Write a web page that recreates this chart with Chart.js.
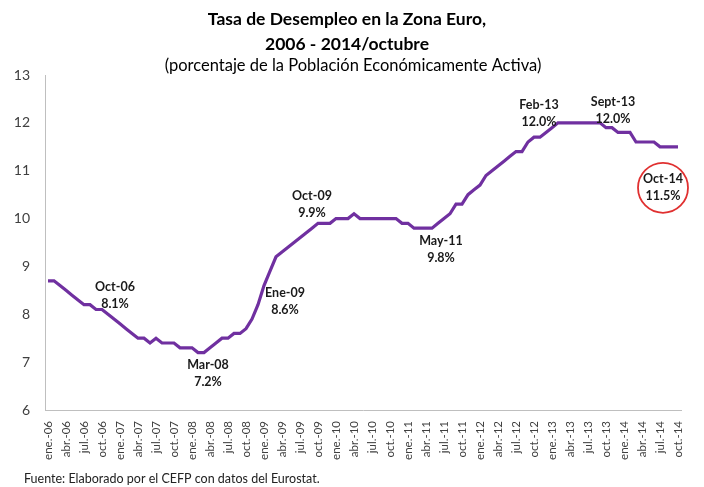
<!DOCTYPE html>
<html>
<head>
<meta charset="utf-8">
<script src="https://cdn.jsdelivr.net/npm/chart.js@4/dist/chart.umd.min.js"></script>
<style>
  html, body { margin: 0; padding: 0; background: #fff; }
  #wrap { width: 704px; height: 487px; }
</style>
</head>
<body>
<div id="wrap"><canvas id="myChart" width="704" height="487"></canvas></div>
<script>
// month names and years for the category axis
const monthNames = ['ene.', 'feb.', 'mar.', 'abr.', 'may.', 'jun.', 'jul.', 'ago.', 'sep.', 'oct.', 'nov.', 'dic.'];
const years = ['06', '07', '08', '09', '10', '11', '12', '13', '14'];

// unemployment rate, % (ene-06 ... oct-14)
const rate = [
  8.7, 8.7, 8.6, 8.5, 8.4, 8.3, 8.2, 8.2, 8.1, 8.1, 8.0, 7.9,
  7.8, 7.7, 7.6, 7.5, 7.5, 7.4, 7.5, 7.4, 7.4, 7.4, 7.3, 7.3,
  7.3, 7.2, 7.2, 7.3, 7.4, 7.5, 7.5, 7.6, 7.6, 7.7, 7.9, 8.2,
  8.6, 8.9, 9.2, 9.3, 9.4, 9.5, 9.6, 9.7, 9.8, 9.9, 9.9, 9.9,
  10.0, 10.0, 10.0, 10.1, 10.0, 10.0, 10.0, 10.0, 10.0, 10.0, 10.0, 9.9,
  9.9, 9.8, 9.8, 9.8, 9.8, 9.9, 10.0, 10.1, 10.3, 10.3, 10.5, 10.6,
  10.7, 10.9, 11.0, 11.1, 11.2, 11.3, 11.4, 11.4, 11.6, 11.7, 11.7, 11.8,
  11.9, 12.0, 12.0, 12.0, 12.0, 12.0, 12.0, 12.0, 12.0, 11.9, 11.9, 11.8,
  11.8, 11.8, 11.6, 11.6, 11.6, 11.6, 11.5, 11.5, 11.5, 11.5
];

const yTicks = [6, 7, 8, 9, 10, 11, 12, 13];

// highlighted points
const noteIdx = [9, 26, 36, 45, 64, 85, 92, 105];
const noteName = ['Oct-06', 'Mar-08', 'Ene-09', 'Oct-09', 'May-11', 'Feb-13', 'Sept-13', 'Oct-14'];
const noteText = ['8.1%', '7.2%', '8.6%', '9.9%', '9.8%', '12.0%', '12.0%', '11.5%'];
// placement of each note relative to its point (px)
const noteShift = [[13, -23], [4, 12], [21, 7], [-6, -27], [9, 13], [-19, -18], [13, -21], [-15, 32]];

const labels = [];
for (let y = 0; y < years.length; y++) {
  for (let m = 0; m < 12; m++) {
    if (labels.length < rate.length) labels.push(monthNames[m] + '-' + years[y]);
  }
}

const FONT = 'Lato, "Open Sans", sans-serif';

const notesPlugin = {
  id: 'notes',
  afterDatasetsDraw(chart) {
    const c = chart.ctx, xs = chart.scales.x, ys = chart.scales.y;
    c.save();
    c.textAlign = 'center';
    c.textBaseline = 'middle';
    c.fillStyle = '#1a1a1a';
    c.font = 'bold 12.5px ' + FONT;
    noteIdx.forEach((idx, k) => {
      const px = xs.getPixelForValue(idx) + noteShift[k][0];
      const py = ys.getPixelForValue(rate[idx]) + noteShift[k][1];
      c.fillText(noteName[k], px, py);
      c.fillText(noteText[k], px, py + 17);
      if (k === noteIdx.length - 1) {
        c.beginPath();
        c.strokeStyle = '#e03030';
        c.lineWidth = 1.8;
        c.arc(px, py + 9, 25, 0, Math.PI * 2);
        c.stroke();
      }
    });
    c.restore();
  },
  afterDraw(chart) {
    const c = chart.ctx;
    c.save();
    c.fillStyle = '#000';
    c.textAlign = 'center';
    c.textBaseline = 'middle';
    c.font = 'bold 17.5px ' + FONT;
    c.fillText('Tasa de Desempleo en la Zona Euro,', 347, 19);
    c.fillText('2006 - 2014/octubre', 347, 44);
    c.font = '16.5px ' + FONT;
    c.fillText('(porcentaje de la Población Económicamente Activa)', 353, 66);
    c.textAlign = 'left';
    c.font = '12.5px ' + FONT;
    c.fillStyle = '#222';
    c.fillText('Fuente: Elaborado por el CEFP con datos del Eurostat.', 24, 479);
    c.restore();
  }
};

new Chart(document.getElementById('myChart').getContext('2d'), {
  type: 'line',
  data: {
    labels: labels,
    datasets: [{
      data: rate,
      borderColor: '#7030A0',
      borderWidth: 3.2,
      pointRadius: 0,
      tension: 0,
      fill: false
    }]
  },
  options: {
    responsive: false,
    animation: false,
    layout: { padding: { top: 75, left: 0, right: 23, bottom: 0 } },
    plugins: {
      legend: { display: false },
      tooltip: { enabled: false }
    },
    scales: {
      x: {
        offset: true,
        grid: { display: false },
        border: { display: true, color: '#bfbfbf', width: 1 },
        ticks: {
          autoSkip: false,
          minRotation: 90,
          maxRotation: 90,
          color: '#404040',
          font: { family: FONT, size: 11.5 },
          callback: (v, i) => (i % 3 === 0 ? labels[i] : '')
        },
        afterFit(s) { s.height = 77; }
      },
      y: {
        min: 6,
        max: 13,
        afterBuildTicks(s) { s.ticks = yTicks.map(v => ({ value: v })); },
        grid: { display: false },
        border: { display: true, color: '#bfbfbf', width: 1 },
        ticks: {
          color: '#404040',
          padding: 7,
          font: { family: FONT, size: 14 }
        },
        afterFit(s) { s.width = 45; }
      }
    }
  },
  plugins: [notesPlugin]
});
</script>
</body>
</html>
